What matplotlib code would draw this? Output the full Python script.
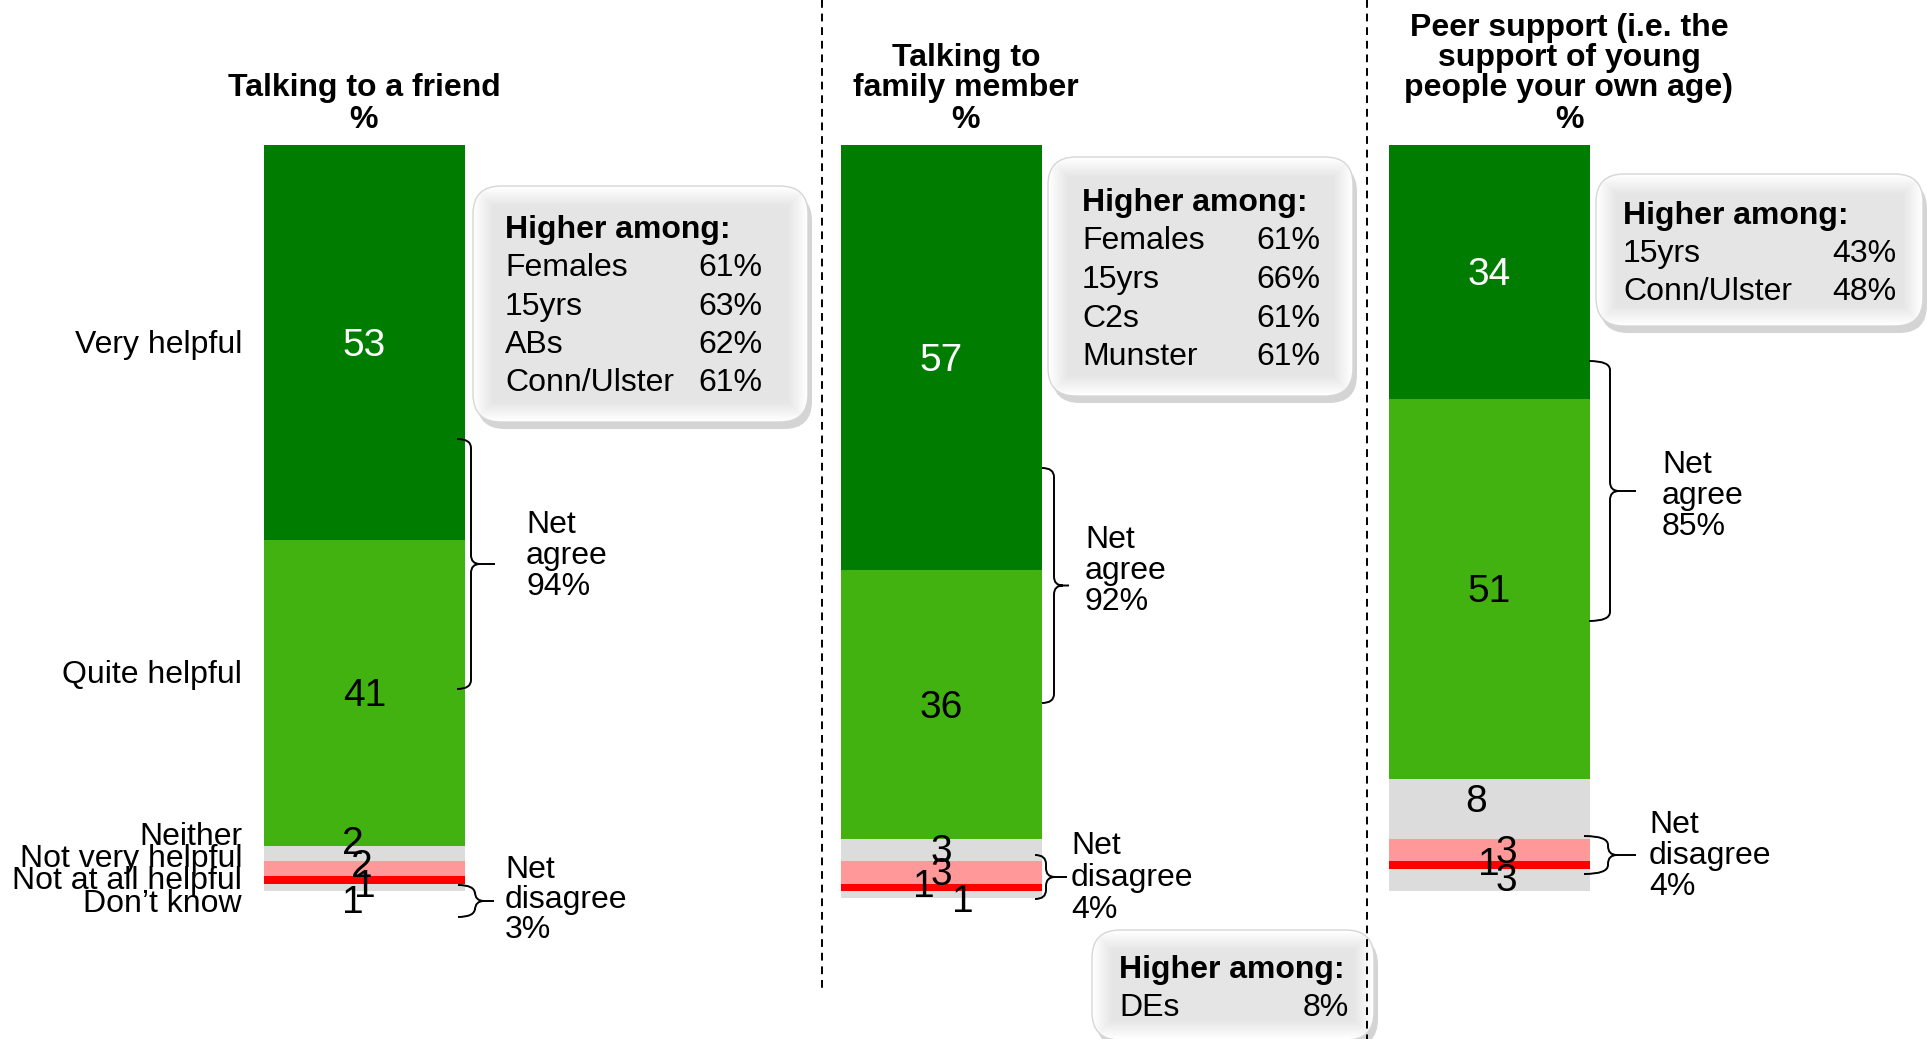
import numpy as np
import matplotlib.pyplot as plt
from matplotlib.patches import FancyBboxPatch, PathPatch
from matplotlib.path import Path

plt.rcParams['font.family'] = ['Liberation Sans', 'DejaVu Sans']

# datos de la grafica
categories = ["Very helpful", "Quite helpful", "Neither", "Not very helpful",
              "Not at all helpful", "Don’t know"]
friend = [53, 41, 2, 2, 1, 1]
family = [57, 36, 3, 3, 1, 1]
peer = [34, 51, 8, 3, 1, 3]
titles = [["Talking to a friend", "%"],
          ["Talking to", "family member", "%"],
          ["Peer support (i.e. the", "support of young", "people your own age)", "%"]]
net_agree = [94, 92, 85]
net_disagree = [3, 4, 4]
higher_friend = [["Females", "61%"], ["15yrs", "63%"], ["ABs", "62%"], ["Conn/Ulster", "61%"]]
higher_family = [["Females", "61%"], ["15yrs", "66%"], ["C2s", "61%"], ["Munster", "61%"]]
higher_peer = [["15yrs", "43%"], ["Conn/Ulster", "48%"]]
higher_family_dis = [["DEs", "8%"]]

colors = ["#007D00", "#41B20F", "#DCDCDC", "#FF9999", "#FF0000", "#DCDCDC"]

# posiciones (pixeles de la figura)
W, H = 1927, 1039
PX = 7.46  # pixeles por punto porcentual
TOP = 145
BAR_W = 201
bar_left = [264, 841, 1389]
FS = 23  # tamano de texto normal
# desplazamientos de las etiquetas (dx en px, dy en %)
lab_dx = [[0, 0, -12, -3, 0, -12], [0, 0, 0, 0, -18, 21], [0, 0, -13, 17, -1, 17]]
lab_dy = [[0.4, 0.3, -1.3, -0.2, 0.9, 2.1], [0.4, 0.5, 0.3, 0.3, 0, 1.0], [0.4, 0.4, -0.9, 0.4, 0, 0.1]]
cat_dy = [0.3, -2.5, -2.3, -1.3, 0.2, 2.3]

fig = plt.figure(figsize=(W / 100, H / 100), dpi=100)

series = [friend, family, peer]
axes = []
for i, vals in enumerate(series):
    total = sum(vals)
    ax = fig.add_axes([bar_left[i] / W, 1 - (TOP + total * PX) / H, BAR_W / W, total * PX / H])
    bottoms = np.cumsum([0] + vals[:-1])
    ax.bar([0] * len(vals), vals, bottom=bottoms, width=1, color=colors)
    for j, v in enumerate(vals):
        ax.text(lab_dx[i][j] / BAR_W, bottoms[j] + v / 2 + lab_dy[i][j], str(v),
                ha="center", va="center", fontsize=28,
                color="white" if j == 0 else "black")
    ax.set_xlim(-0.5, 0.5)
    ax.set_ylim(total, 0)
    ax.axis("off")
    axes.append(ax)

# etiquetas de categorias (solo en el primer grafico)
bottoms = np.cumsum([0] + friend[:-1])
for j, c in enumerate(categories):
    axes[0].text(-0.5 - 22 / BAR_W, bottoms[j] + friend[j] / 2 + cat_dy[j], c,
                 ha="right", va="center", fontsize=FS)

# capa superior en pixeles para cajas, llaves y titulos
ov = fig.add_axes([0, 0, 1, 1])
ov.axis("off")


def ctext(x, y, s, fs=FS, **kw):
    # texto centrado en la altura de mayusculas
    ov.text(x, y + 0.358 * fs * 100 / 72, s, fontsize=fs, va="baseline", zorder=6, **kw)


def caja(x0, y0, x1, y1, rows, tx, vx, ys):
    style = "round,pad=0,rounding_size=28"
    ov.add_patch(FancyBboxPatch((x0 + 4, y0 + 7), x1 - x0, y1 - y0, boxstyle=style,
                                fc="#A0A0A0", ec="none", alpha=0.45, zorder=1))
    borde = FancyBboxPatch((x0, y0), x1 - x0, y1 - y0, boxstyle=style,
                           fc="none", ec="#D6D6D6", lw=1, zorder=3)
    ov.add_patch(borde)
    w, h = int(x1 - x0), int(y1 - y0)
    xx = np.arange(w)
    yy = np.arange(h)
    d = np.minimum.outer(np.minimum(yy, h - 1 - yy), np.minimum(xx, w - 1 - xx))
    t = np.clip(d / 20, 0, 1)
    img = 1.0 * (1 - t) + 0.895 * t
    im = ov.imshow(img, cmap="gray", vmin=0, vmax=1, extent=(x0, x1, y1, y0),
                   zorder=2, aspect="auto", interpolation="bilinear")
    im.set_clip_path(borde)
    ctext(tx, ys[0], "Higher among:", weight="bold")
    for k, (name, val) in enumerate(rows):
        ctext(tx, ys[k + 1], name)
        ctext(vx, ys[k + 1], val, ha="right")


def llave(x0, x1, x2, ya, yb, r=9):
    ym = (ya + yb) / 2
    verts = [(x0, ya), (x1, ya), (x1, ya + r), (x1, ym - r), (x1, ym), (x1 + r, ym), (x2, ym),
             (x1 + r, ym), (x1, ym), (x1, ym + r), (x1, yb - r), (x1, yb), (x0, yb)]
    codes = [Path.MOVETO, Path.CURVE3, Path.CURVE3, Path.LINETO, Path.CURVE3, Path.CURVE3,
             Path.LINETO, Path.MOVETO, Path.CURVE3, Path.CURVE3, Path.LINETO, Path.CURVE3,
             Path.CURVE3]
    ov.add_patch(PathPatch(Path(verts, codes), fc="none", ec="black", lw=1.4, zorder=5))


def texto_net(x, yc, word, pct, sp):
    for k, s in enumerate(["Net", word, f"{pct}%"]):
        ctext(x, yc + (k - 1) * sp, s)


# titulos
title_x = [364, 966, 1569]
title_y = [[85, 117], [55, 85, 117], [25, 55, 85, 117]]
for i in range(3):
    for s, y in zip(titles[i], title_y[i]):
        ctext(title_x[i], y, s, weight="bold", ha="center")

# cajas "Higher among"
caja(473, 186, 808, 422, higher_friend, 505, 762, [227, 265, 304, 342, 380])
caja(1048, 157, 1353, 396, higher_family, 1082, 1320, [200, 238, 277, 316, 354])
caja(1596, 174, 1923, 326, higher_peer, 1623, 1896, [213, 251, 289])
caja(1092, 930, 1374, 1040, higher_family_dis, 1119, 1349, [967, 1005])

# llaves de net agree / disagree
llave(457, 471, 495, 439, 689)
llave(458, 475, 494, 885, 917)
llave(1042, 1054, 1069, 468, 703)
llave(1035, 1046, 1067, 855, 899)
llave(1589, 1610, 1636, 361, 621)
llave(1584, 1608, 1636, 836, 874)

texto_net(526, 553, "agree", net_agree[0], 31)
texto_net(505, 897, "disagree", net_disagree[0], 30)
texto_net(1085, 568, "agree", net_agree[1], 31)
texto_net(1071, 875, "disagree", net_disagree[1], 32)
texto_net(1662, 493, "agree", net_agree[2], 31)
texto_net(1649, 853, "disagree", net_disagree[2], 31)

# lineas divisorias punteadas
ov.plot([822, 822], [0, 992], color="black", lw=1.4, dashes=(4, 3), zorder=7)
ov.plot([1367, 1367], [0, H], color="black", lw=1.4, dashes=(4, 3), zorder=7)

ov.set_xlim(0, W)
ov.set_ylim(H, 0)

fig.savefig("out.png", dpi=100)
